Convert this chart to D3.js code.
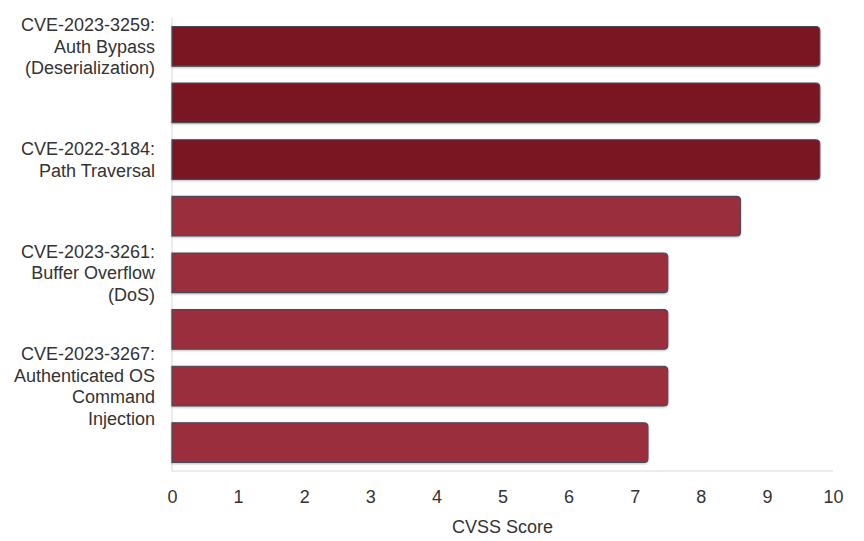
<!DOCTYPE html>
<html>
<head>
<meta charset="utf-8">
<script src="https://cdn.jsdelivr.net/npm/d3@7"></script>
<style>
  html, body { margin: 0; padding: 0; background: #ffffff; }
  svg { display: block; font-family: "Liberation Sans", Arial, Helvetica, sans-serif; }
</style>
</head>
<body>
<svg id="chart" width="864" height="541"></svg>
<script>
// ---- data ----
const categoryLabels = [
  "CVE-2023-3259:\nAuth Bypass\n(Deserialization)",
  "",
  "CVE-2022-3184:\nPath Traversal",
  "",
  "CVE-2023-3261:\nBuffer Overflow\n(DoS)",
  "",
  "CVE-2023-3267:\nAuthenticated OS\nCommand\nInjection",
  ""
];
const cvssScores = [9.8, 9.8, 9.8, 8.6, 7.5, 7.5, 7.5, 7.2];
const xTicks = [0, 1, 2, 3, 4, 5, 6, 7, 8, 9, 10];
const xAxisTitle = "CVSS Score";

// ---- layout ----
const svg = d3.select("#chart");
const margin = { left: 172, right: 31, top: 18, bottom: 70 };
const W = 864, H = 541;

const x = d3.scaleLinear().domain([0, 10]).range([margin.left, W - margin.right]);
const y = d3.scaleBand().domain(d3.range(cvssScores.length))
  .range([margin.top, H - margin.bottom]).paddingInner(0.3).paddingOuter(0.15);

const textColor = "#333333";
const gridColor = "#e6e6e6";
const fontSize = 18;

// axis lines
svg.append("line")
  .attr("x1", x(0)).attr("x2", x(0))
  .attr("y1", margin.top).attr("y2", H - margin.bottom)
  .attr("stroke", gridColor).attr("stroke-width", 1.5);
svg.append("line")
  .attr("x1", x(0)).attr("x2", x(10))
  .attr("y1", H - margin.bottom).attr("y2", H - margin.bottom)
  .attr("stroke", gridColor).attr("stroke-width", 1.5);

// shadow filter
const defs = svg.append("defs");
const f = defs.append("filter").attr("id", "sh").attr("x", "-5%").attr("y", "-20%").attr("width", "110%").attr("height", "150%");
f.append("feDropShadow").attr("dx", 0).attr("dy", 1).attr("stdDeviation", 0.8).attr("flood-color", "#000").attr("flood-opacity", 0.25);

function barPath(x0, y0, x1, y1, r) {
  return `M${x0},${y0} H${x1 - r} Q${x1},${y0} ${x1},${y0 + r} V${y1 - r} Q${x1},${y1} ${x1 - r},${y1} H${x0} Z`;
}

const color = v => v >= 9 ? "#7a1423" : "#9b2e3c";

svg.append("g").selectAll("path")
  .data(cvssScores)
  .join("path")
  .attr("d", (d, i) => barPath(x(0), y(i), x(d), y(i) + y.bandwidth(), 4))
  .attr("fill", d => color(d))
  .attr("stroke", "#474c59")
  .attr("stroke-width", 1.2)
  .attr("filter", "url(#sh)");

// category labels
const labG = svg.append("g");
categoryLabels.forEach((lab, i) => {
  if (!lab) return;
  const lines = lab.split("\n");
  const lh = 21.6;
  const cy = y(i) + y.bandwidth() / 2;
  const t = labG.append("text")
    .attr("text-anchor", "end")
    .attr("fill", textColor)
    .attr("font-size", fontSize);
  lines.forEach((ln, k) => {
    t.append("tspan")
      .attr("x", 155)
      .attr("y", cy + (k - (lines.length - 1) / 2) * lh)
      .attr("dy", "0.35em")
      .text(ln);
  });
});

// x axis ticks
const xAxis = d3.axisBottom(x).tickValues(xTicks).tickSize(0).tickPadding(0).tickFormat(d3.format("d"));
const gx = svg.append("g").attr("transform", `translate(0,${H - margin.bottom})`).call(xAxis);
gx.select(".domain").remove();
gx.selectAll("text")
  .attr("y", 26)
  .attr("dy", "0.35em")
  .attr("fill", textColor)
  .attr("font-size", fontSize)
  .attr("font-family", "'Liberation Sans', Arial, sans-serif");

svg.append("text")
  .attr("x", (x(0) + x(10)) / 2)
  .attr("y", 527)
  .attr("text-anchor", "middle")
  .attr("dy", "0.35em")
  .attr("fill", textColor)
  .attr("font-size", fontSize)
  .text(xAxisTitle);
</script>
</body>
</html>
